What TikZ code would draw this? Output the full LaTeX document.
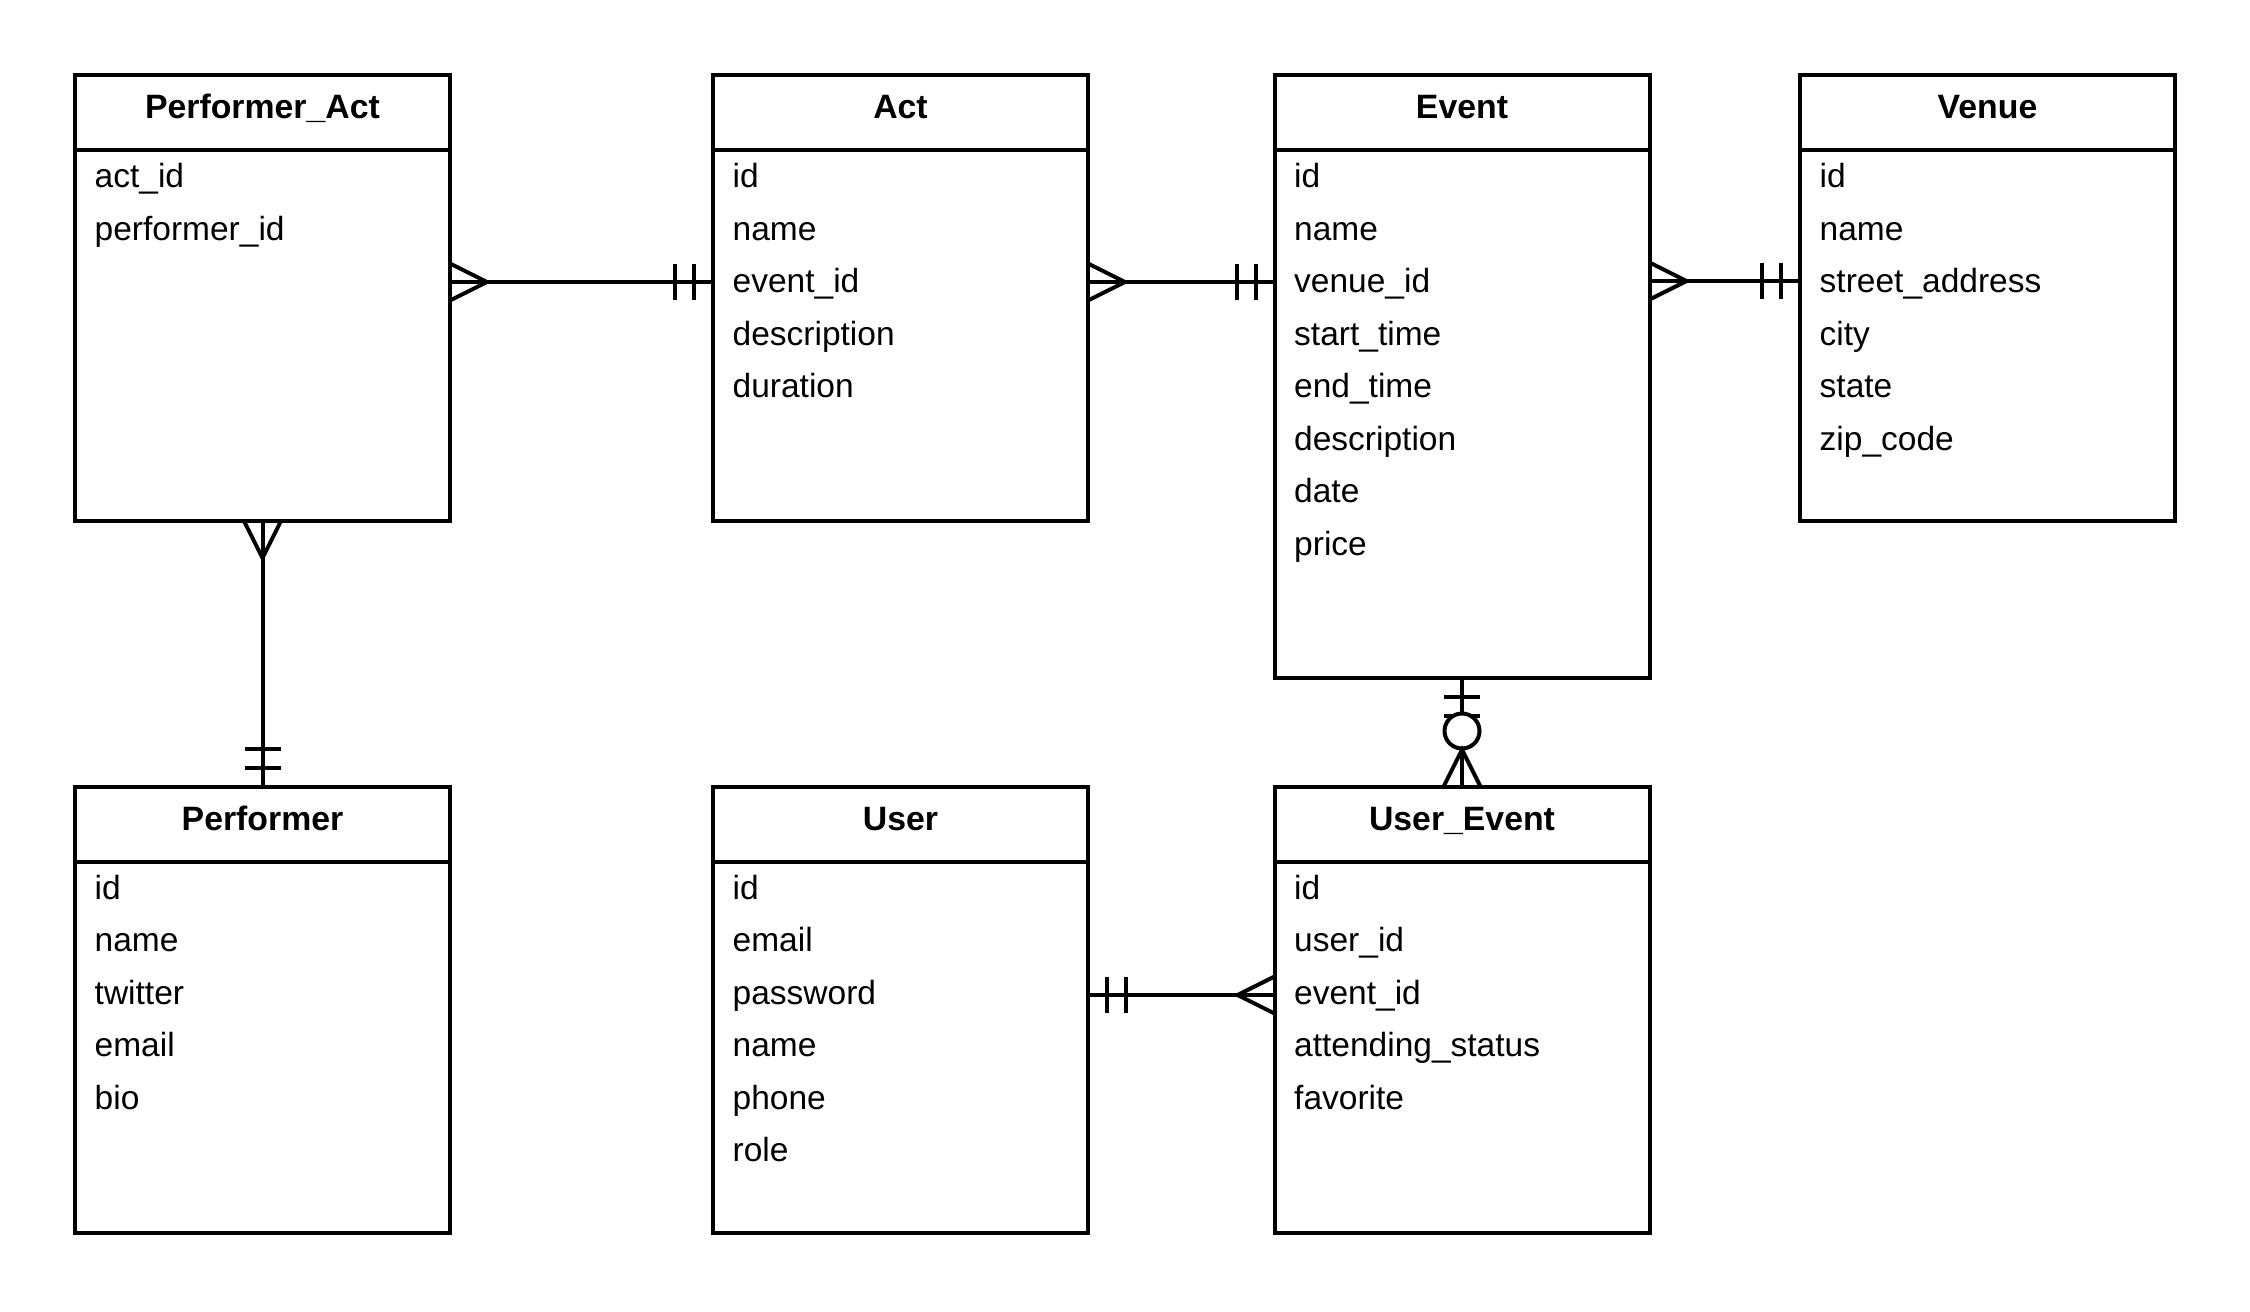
\documentclass[tikz,border=0pt]{standalone}
\usepackage{fontspec}
\setmainfont{Liberation Sans}
\tikzset{
  entity/.style={draw, line width=4pt, rectangle, minimum width=375pt, inner sep=0pt, outer sep=0pt, fill=white},
  ttl/.style={font=\fontsize{33.8}{40}\selectfont\bfseries, anchor=base, inner sep=0pt},
  attr/.style={font=\fontsize{33.5}{40}\selectfont, anchor=base west, inner sep=0pt},
  conn/.style={line width=4pt},
  crow/.pic={\draw[conn] (0,-18.5) -- (37,0) -- (0,18.5);},
  bars/.pic={\draw[conn] (19,-18) -- (19,18) (38,-18) -- (38,18);},
}
\newcommand{\erent}[6]{%
  \node[entity, minimum height=#4pt, anchor=north west] (#1) at (#2,#3) {};
  \node[entity, minimum height=75pt, anchor=north west] (#1-head) at (#2,#3) {};
  \node[ttl] (#1-title) at (#2+187.5,#3+43.3) {#5};
  \foreach \a [count=\i from 0] in {#6}
    \node[attr] (#1-\i) at (#2+19.5,#3+112.7+52.5*\i) {\a};
}
\begin{document}
\begin{tikzpicture}[x=1pt,y=-1pt]
\fill[white] (0,0) rectangle (2250,1311);
\useasboundingbox (0,0) rectangle (2250,1311);

\erent{pa}{75}{75}{446}{Performer\_Act}{act\_id, performer\_id}
\erent{act}{713}{75}{446}{Act}{id, name, event\_id, description, duration}
\erent{ev}{1274.5}{75}{602.7}{Event}{id, name, venue\_id, start\_time, end\_time, description, date, price}
\erent{ven}{1800}{75}{446}{Venue}{id, name, street\_address, city, state, zip\_code}
\erent{perf}{75}{786.7}{446}{Performer}{id, name, twitter, email, bio}
\erent{usr}{713}{786.7}{446}{User}{id, email, password, name, phone, role}
\erent{ue}{1274.5}{786.7}{446}{User\_Event}{id, user\_id, event\_id, attending\_status, favorite}

% connector end points
\coordinate (pa-r) at (450,282);
\coordinate (act-l) at (713,282);
\coordinate (act-r) at (1088,282);
\coordinate (ev-l) at (1274.5,282);
\coordinate (ev-r) at (1649.5,281);
\coordinate (ven-l) at (1800,281);
\coordinate (pa-b) at (262.5,521);
\coordinate (perf-t) at (262.5,786.7);
\coordinate (ev-b) at (1462,677.7);
\coordinate (ue-t) at (1462,786.7);
\coordinate (usr-r) at (1088,995);
\coordinate (ue-l) at (1274.5,995);

% Performer_Act -- Act
\draw[conn] (pa-r) -- (act-l);
\pic at (pa-r) {crow};
\pic[rotate=180] at (act-l) {bars};
% Act -- Event
\draw[conn] (act-r) -- (ev-l);
\pic at (act-r) {crow};
\pic[rotate=180] at (ev-l) {bars};
% Event -- Venue
\draw[conn] (ev-r) -- (ven-l);
\pic at (ev-r) {crow};
\pic[rotate=180] at (ven-l) {bars};
% Performer_Act -- Performer
\draw[conn] (pa-b) -- (perf-t);
\pic[rotate=-90] at (pa-b) {crow};
\pic[rotate=90] at (perf-t) {bars};
% Event -- User_Event
\draw[conn] (ev-b) -- (ue-t);
\pic[rotate=-90] at (ev-b) {bars};
\node[circle, draw, line width=4pt, fill=white, minimum size=35pt, inner sep=0pt] (ue-zero) at (1462,731) {};
\pic[rotate=90] at (ue-t) {crow};
\draw[conn] (ue-zero) -- (ue-t);
% User -- User_Event
\draw[conn] (usr-r) -- (ue-l);
\pic at (usr-r) {bars};
\pic[rotate=180] at (ue-l) {crow};
\end{tikzpicture}
\end{document}
